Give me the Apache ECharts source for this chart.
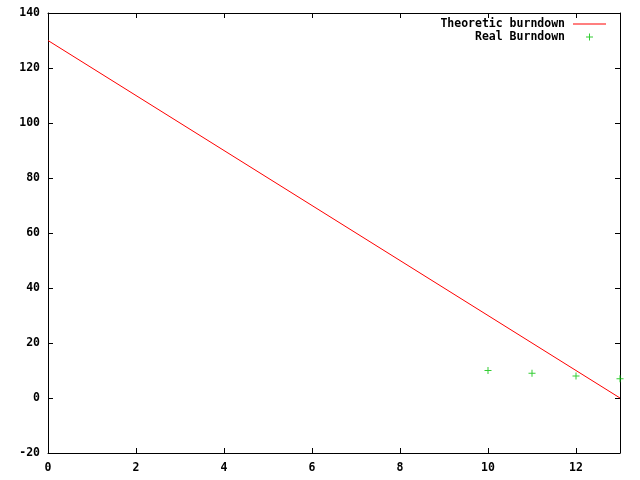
<!DOCTYPE html>
<html><head><meta charset="utf-8">
<script src="https://cdn.jsdelivr.net/npm/echarts@6/dist/echarts.min.js"></script>
<style>html,body{margin:0;padding:0;background:#fff}#c{width:640px;height:480px}</style>
</head><body><div id="c"></div>
<script>
const theoreticX = [0, 13];
const theoreticY = [130, 0];
const realX = [10, 11, 12, 13];
const realY = [10, 9, 8, 7];
const seriesNames = ['Theoretic burndown', 'Real Burndown'];

const FONT = 'DejaVu Sans Mono';
const plusPath = 'path://M3,0h1v3h3v1h-3v3h-1v-3h-3v-1h3z';
const legendLineIcon = 'path://M0,0M33,7M0,3h33v1h-33z';
const legendPlusIcon = 'path://M0,0M33,7M16,0h1v3h3v1h-3v3h-1v-3h-3v-1h3z';
const lab = {color:'#000', fontFamily:FONT, fontWeight:'bold', fontSize:11.5};
const chart = echarts.init(document.getElementById('c'), null, {renderer:'canvas'});
function xa(pos, show){
  return {type:'value', position:pos, min:0, max:13, interval:2,
    axisLine:{show:true, onZero:false, lineStyle:{color:'#000', width:1}},
    axisTick:{show:true, inside:true, length:5, lineStyle:{color:'#000'}},
    axisLabel:Object.assign({show:show, margin:9, showMaxLabel:false}, lab),
    splitLine:{show:false}};
}
function ya(pos, show){
  return {type:'value', position:pos, min:-20, max:140, interval:20,
    axisLine:{show:true, onZero:false, lineStyle:{color:'#000', width:1}},
    axisTick:{show:true, inside:true, length:5, lineStyle:{color:'#000'}},
    axisLabel:Object.assign({show:show, margin:8}, lab),
    splitLine:{show:false}};
}
function lg(name, icon, top){
  return {data:[{name:name, icon:icon}], right:34, top:top, orient:'vertical', align:'right',
    itemWidth:33, itemHeight:7, padding:0, itemGap:0, selectedMode:false,
    textStyle:Object.assign({}, lab, {padding:[0,3,0,0]})};
}
chart.setOption({
  animation:false,
  backgroundColor:'#fff',
  grid:{left:48, right:20, top:13, bottom:27},
  xAxis:[xa('bottom', true), xa('top', false)],
  yAxis:[ya('left', true), ya('right', false)],
  legend:[lg(seriesNames[0], legendLineIcon, 18), lg(seriesNames[1], legendPlusIcon, 31)],
  series:[
    {name:seriesNames[0], type:'line', showSymbol:false, symbol:'none', color:'#ff0000',
     data:theoreticX.map((x,i)=>[x, theoreticY[i]]),
     itemStyle:{color:'#ff0000'},
     lineStyle:{color:'#ff0000', width:1}},
    {name:seriesNames[1], type:'scatter', symbol:plusPath, symbolSize:7, color:'#00c000',
     clip:false,
     itemStyle:{color:'#00c000'},
     data:realX.map((x,i)=>[x, realY[i]])}
  ]
});
</script></body></html>
